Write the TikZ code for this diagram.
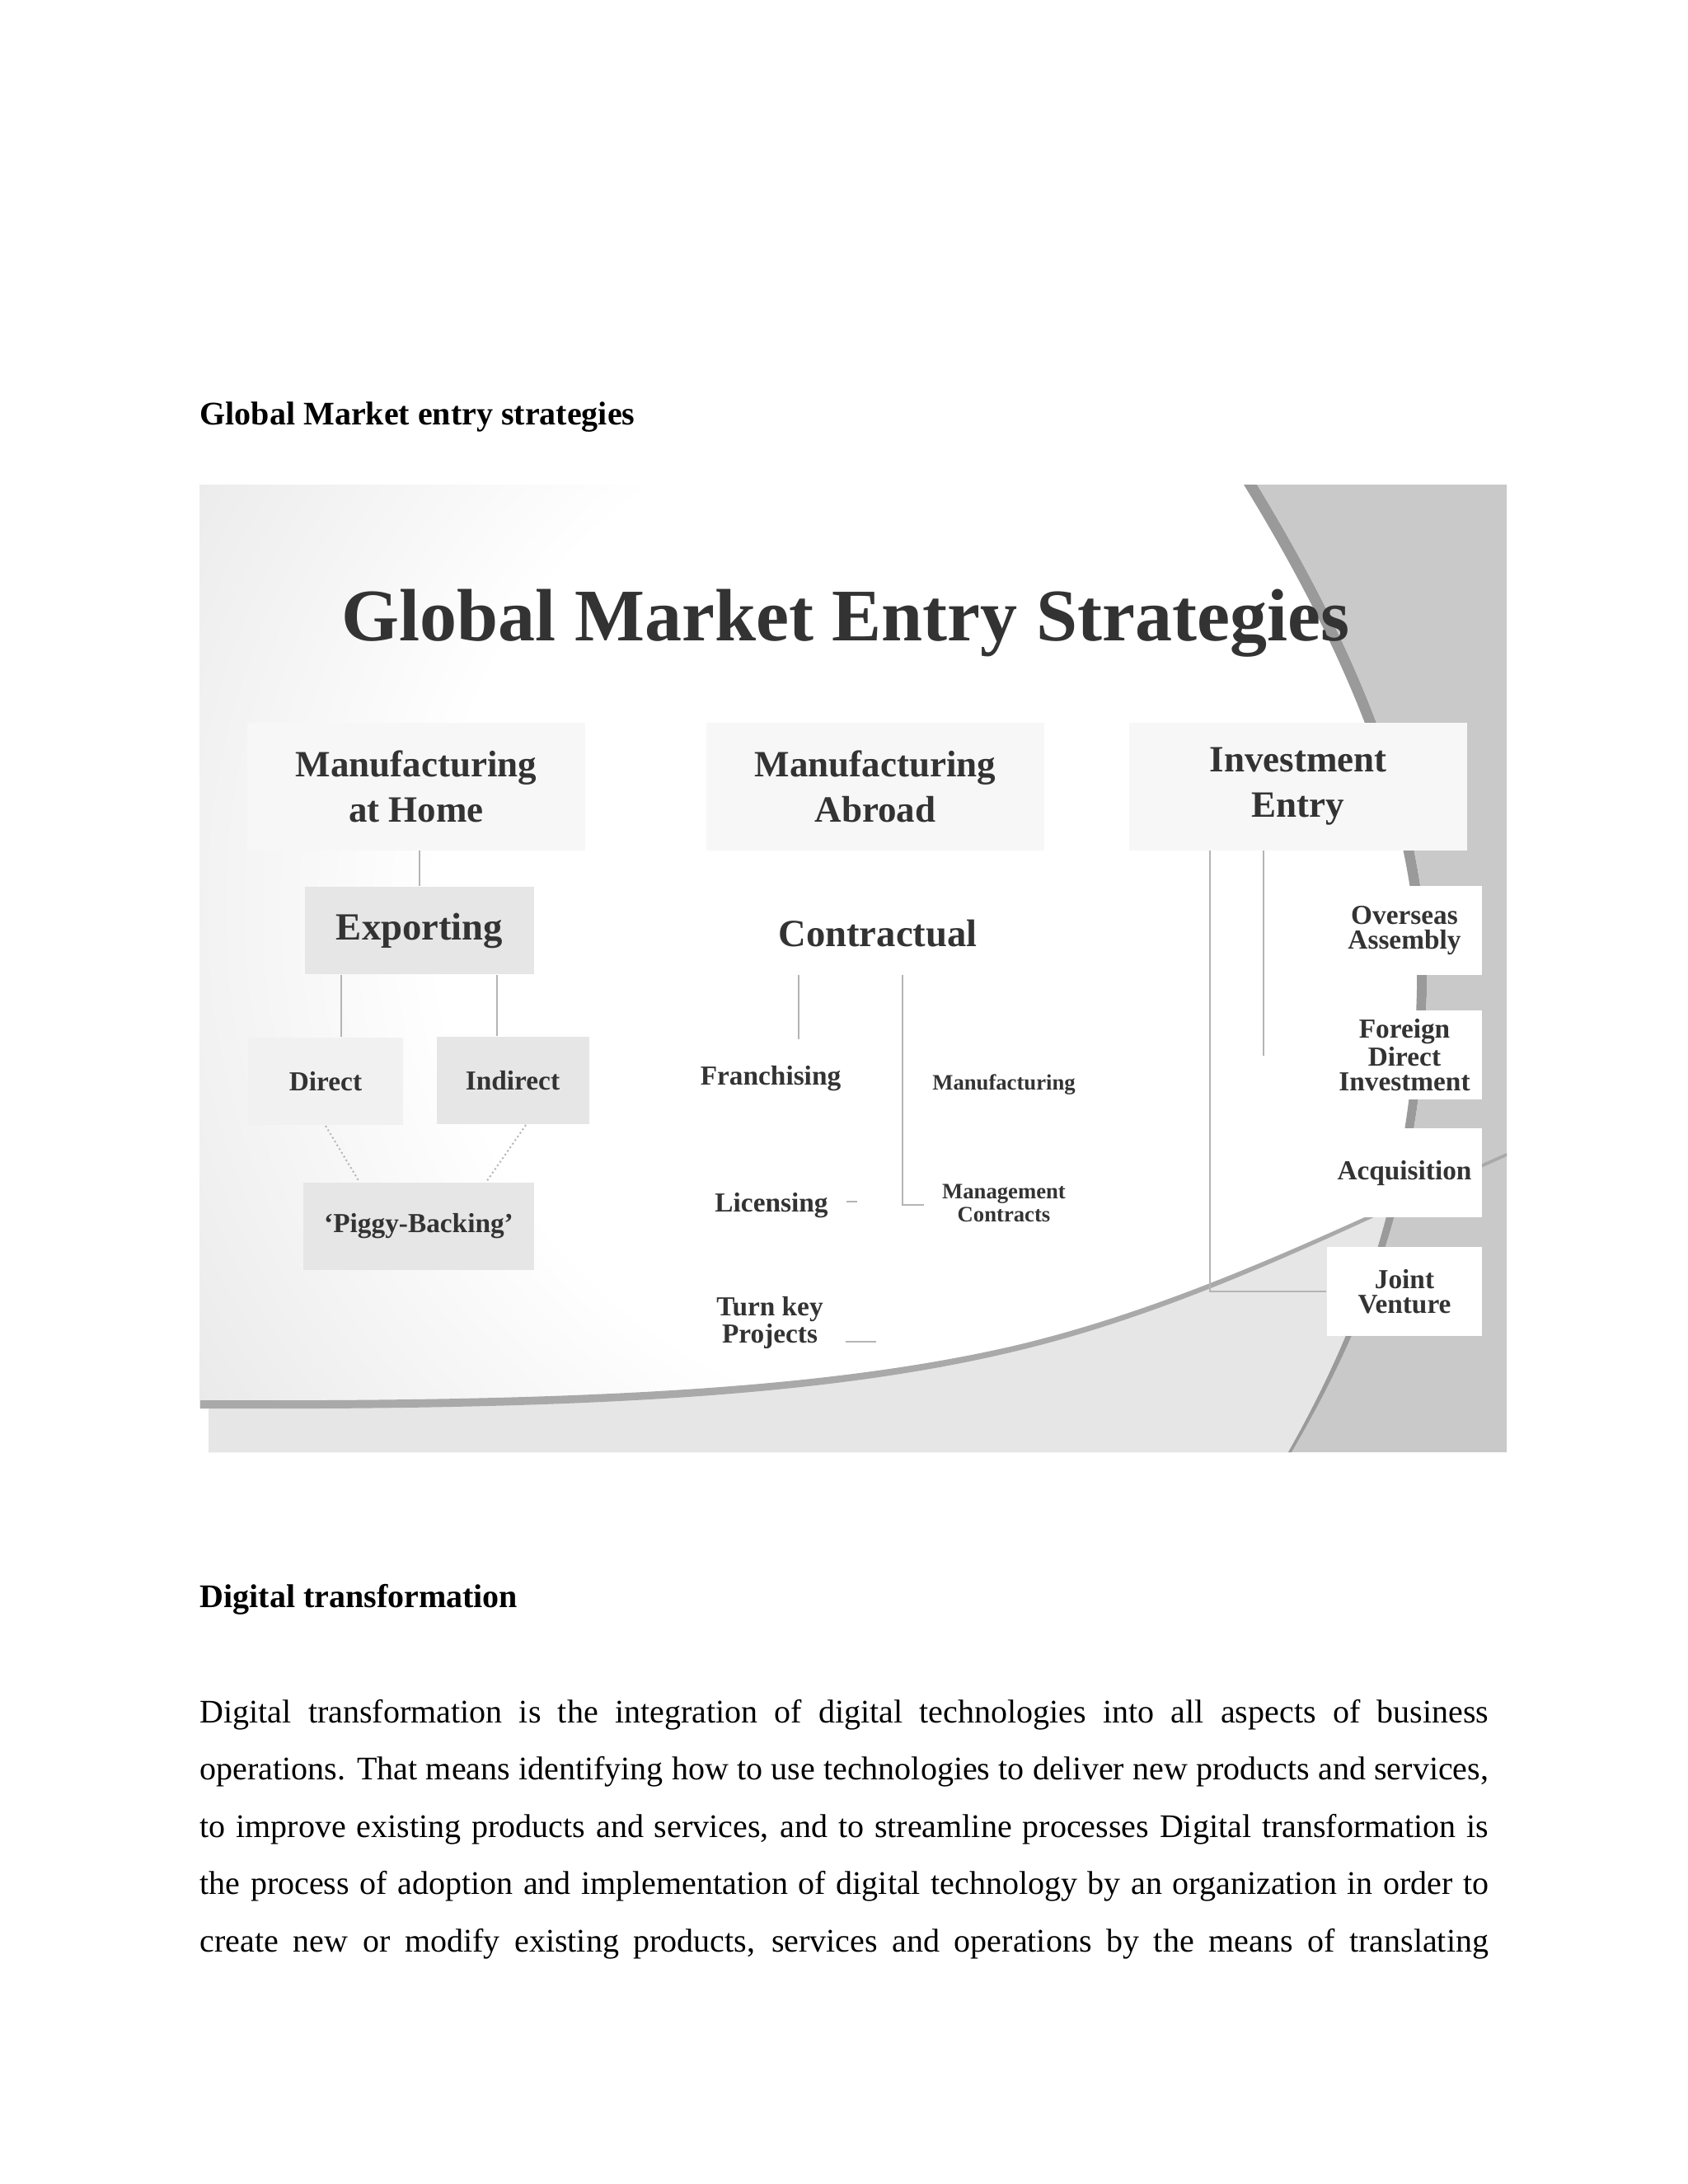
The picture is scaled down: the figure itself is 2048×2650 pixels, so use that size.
\documentclass[tikz,border=0pt]{standalone}
\usepackage{fontspec}
\setmainfont{Liberation Serif}
\usepackage{tikz}
\usetikzlibrary{positioning}
\definecolor{inkgray}{HTML}{333333}
\definecolor{bandgray}{HTML}{C9C9C9}
\definecolor{stripgray}{HTML}{E6E6E6}
\definecolor{arcgray}{HTML}{9A9A9A}
\definecolor{linkgray}{HTML}{B4B4B4}
\definecolor{paleboxfill}{HTML}{F7F7F7}
\definecolor{greyboxfill}{HTML}{E6E6E6}
\pgfdeclareradialshading{softglow}{\pgfpoint{0bp}{0bp}}{color(0bp)=(white); color(17bp)=(white); color(50bp)=(black!21)}

\begin{document}
\begin{tikzpicture}[x=0.010542cm, y=-0.010542cm,
  topbox/.style={fill=paleboxfill, minimum width=123pt, minimum height=46.5pt, inner sep=0pt, align=center, font=\fontsize{13.5}{16.5}\selectfont\bfseries, text=inkgray},
  greybox/.style={fill=greyboxfill, minimum height=32pt, inner sep=0pt, align=center, text=inkgray},
  sidebox/.style={fill=white, minimum width=56.4pt, minimum height=32.4pt, inner sep=0pt, align=center, font=\fontsize{10}{9}\selectfont\bfseries, text=inkgray},
  plainlabel/.style={inner sep=0pt, align=center, text=inkgray},
  link/.style={draw=linkgray, line width=0.6pt},
  pagetext/.style={anchor=base west, inner sep=0pt, font=\fontsize{12}{20.8}\selectfont}]
\useasboundingbox (0,0) rectangle (2048,2650);
\fill[white] (0,0) rectangle (2048,2650);

\node[pagetext, font=\fontsize{12}{14}\selectfont\bfseries] (head1) at (242,515) {Global Market entry strategies};

\fill[bandgray] (242,588) -- (1828,588) -- (1828,1762) -- (253,1762) -- (253,1708) -- (242,1708) -- cycle;
\fill[stripgray] (242,588) -- (1525,588) .. controls (1648,790) and (1737,1000) .. (1731,1200) .. controls (1725,1450) and (1650,1620) .. (1567,1762) -- (253,1762) -- (253,1708) -- (242,1708) -- cycle;
\begin{scope}
\clip (242,588) -- (1525,588) .. controls (1648,790) and (1737,1000) .. (1731,1200) .. controls (1725,1450) and (1650,1620) .. (1567,1762) -- (242,1762) -- cycle;
\clip (242,560) -- (242,1703) -- (243,1703) .. controls (700,1705) and (1000,1690) .. (1230,1637) .. controls (1450,1585) and (1650,1480) .. (1830,1400) -- (1830,560) -- cycle;
\shade[shading=softglow] (240,190) rectangle (2060,2010);
\end{scope}
\fill[arcgray!85] (243,1699) .. controls (700,1701) and (1000,1686) .. (1230,1633) .. controls (1450,1581) and (1650,1477) .. (1828,1399) -- (1828,1403) .. controls (1650,1482) and (1450,1588) .. (1230,1640) .. controls (1000,1695) and (700,1711) .. (243,1709) -- cycle;
\fill[arcgray] (1525,588) .. controls (1648,790) and (1737,1000) .. (1731,1200) .. controls (1725,1450) and (1650,1620) .. (1567,1762) -- (1563,1762) .. controls (1644,1618) and (1714,1448) .. (1719,1200) .. controls (1724,1000) and (1634,792) .. (1509,588) -- cycle;

\node[font=\fontsize{27}{32}\selectfont\bfseries, text=inkgray, anchor=base, inner sep=0pt] (title) at (1026,777) {Global Market Entry Strategies};

\node[topbox] (mhome) at (505,954) {Manufacturing\\at Home};
\node[topbox] (mabroad) at (1062,954) {Manufacturing\\Abroad};
\node[topbox] (invest) at (1575,954) {Investment\\Entry};

\node[greybox, minimum width=83.4pt, font=\fontsize{14}{16}\selectfont\bfseries] (export) at (509,1129) {Exporting};
\node[greybox, fill=greyboxfill!55, minimum width=56.4pt, font=\fontsize{10}{12}\selectfont\bfseries] (direct) at (395,1312) {Direct};
\node[greybox, minimum width=55.5pt, font=\fontsize{10}{12}\selectfont\bfseries] (indirect) at (622,1311) {Indirect};
\node[greybox, minimum width=83.7pt, font=\fontsize{10}{12}\selectfont\bfseries] (piggy) at (508,1488) {‘Piggy-Backing’};

\node[plainlabel, anchor=base, font=\fontsize{14}{16}\selectfont\bfseries] (contract) at (1065,1148) {Contractual};
\node[plainlabel, anchor=base, font=\fontsize{10}{9}\selectfont\bfseries] (franch) at (935,1316) {Franchising};
\node[plainlabel, anchor=base, font=\fontsize{8}{9}\selectfont\bfseries] (mfgcontract) at (1218,1322) {Manufacturing};
\node[plainlabel, anchor=base, font=\fontsize{10}{9}\selectfont\bfseries] (licence) at (936,1470) {Licensing};
\node[plainlabel, font=\fontsize{8}{8.6}\selectfont\bfseries] (mgmt) at (1218,1460) {Management\\Contracts};
\node[plainlabel, font=\fontsize{10}{9}\selectfont\bfseries] (turnkey) at (934,1605) {Turn key\\Projects};

\node[sidebox] (overseas) at (1704,1129) {Overseas\\Assembly};
\node[sidebox] (fdi) at (1704,1280) {Foreign\\Direct\\Investment};
\node[sidebox] (acq) at (1704,1423) {Acquisition};
\node[sidebox] (joint) at (1704,1567) {Joint\\Venture};

\draw[link] (mhome.south -| export.north) -- (export.north);
\draw[link] ([xshift=13.5pt]export.south west) -- ([xshift=13.5pt]export.south west |- direct.north);
\draw[link] ([xshift=-13.8pt]export.south east) -- ([xshift=-13.8pt]export.south east |- indirect.north);
\draw[link, densely dotted] (direct.south) -- ([xshift=-21.6pt]piggy.north);
\draw[link, densely dotted] ([xshift=4.8pt]indirect.south) -- ([xshift=24.6pt]piggy.north);
\draw[link] ([shift={(25,34)}]contract.south west) -- ++(0,78);
\draw[link] ([shift={(151,34)}]contract.south west) -- ++(0,279) -- ++(26,0);
\draw[link] (licence.base east) ++(22,-12) -- ++(13,0);
\draw[link] (turnkey.east) ++(27,23) -- ++(37,0);
\draw[link] ([xshift=-32.1pt]invest.south) |- (joint.west);
\draw[link] ([xshift=-12.6pt]invest.south) -- ++(0,249);

\node[pagetext, font=\fontsize{12}{14}\selectfont\bfseries] (head2) at (242,1950) {Digital transformation};
\node[pagetext] (line1) at (242,2090) {\makebox[469pt][s]{Digital transformation is the integration of digital technologies into all aspects of business}};
\node[pagetext] (line2) at (242,2159) {\makebox[469pt][s]{operations. That means identifying how to use technologies to deliver new products and services,}};
\node[pagetext] (line3) at (242,2229) {\makebox[469pt][s]{to improve existing products and services, and to streamline processes Digital transformation is}};
\node[pagetext] (line4) at (242,2298) {\makebox[469pt][s]{the process of adoption and implementation of digital technology by an organization in order to}};
\node[pagetext] (line5) at (242,2368) {\makebox[469pt][s]{create new or modify existing products, services and operations by the means of translating}};
\end{tikzpicture}
\end{document}
